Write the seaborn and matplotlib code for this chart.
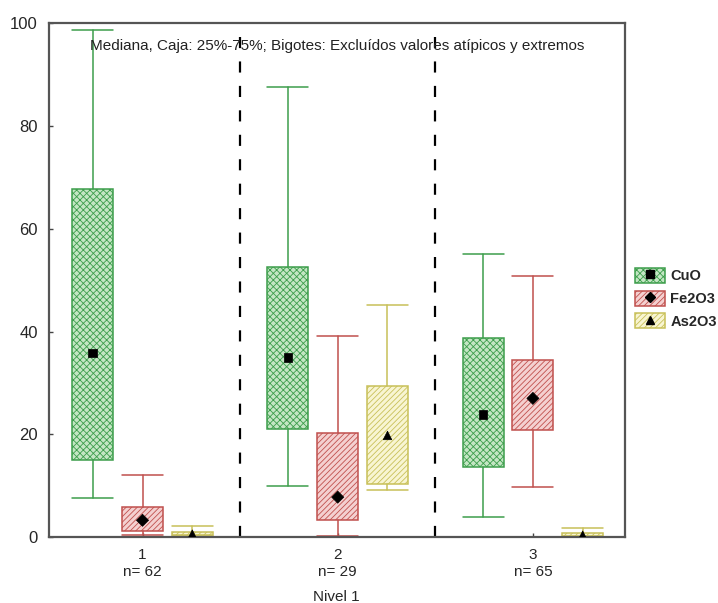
import matplotlib
matplotlib.use('Agg')
import matplotlib.pyplot as plt
import seaborn as sns
import pandas as pd
from matplotlib.patches import Patch
from matplotlib.lines import Line2D

# ---- data ----
groups = [1, 2, 3]
n_counts = [62, 29, 65]
series = ['CuO', 'Fe2O3', 'As2O3']

# per series, per group: whisker low, Q1, median, Q3, whisker high
cuo_lo = [7.6, 9.9, 3.9]
cuo_q1 = [15.0, 21.0, 13.6]
cuo_med = [35.8, 35.0, 23.9]
cuo_q3 = [67.7, 52.5, 38.7]
cuo_hi = [98.6, 87.5, 55.1]

fe_lo = [0.4, 0.2, 9.7]
fe_q1 = [1.2, 3.3, 20.8]
fe_med = [3.3, 7.8, 27.0]
fe_q3 = [5.8, 20.2, 34.4]
fe_hi = [12.1, 39.1, 50.8]

as_lo = [0.2, 9.1, 0.0]
as_q1 = [0.4, 10.3, 0.2]
as_med = [0.6, 19.8, 0.4]
as_q3 = [1.0, 29.4, 0.8]
as_hi = [2.1, 45.1, 1.8]

stats_by_series = {
    'CuO': (cuo_lo, cuo_q1, cuo_med, cuo_q3, cuo_hi),
    'Fe2O3': (fe_lo, fe_q1, fe_med, fe_q3, fe_hi),
    'As2O3': (as_lo, as_q1, as_med, as_q3, as_hi),
}

# ---- style ----
sns.set_style('white')
plt.rcParams['font.family'] = ['Liberation Sans', 'DejaVu Sans']
plt.rcParams['hatch.linewidth'] = 0.6

offsets = {'CuO': -0.255, 'Fe2O3': 0.0, 'As2O3': 0.255}
edge_colors = {'CuO': '#3d9e4c', 'Fe2O3': '#c0504d', 'As2O3': '#c8c058'}
face_colors = {'CuO': '#c4e6c4', 'Fe2O3': '#f4d0d0', 'As2O3': '#f8f5d2'}
hatches = {'CuO': 'xxxxx', 'Fe2O3': '//////', 'As2O3': '//////'}
markers = {'CuO': 's', 'Fe2O3': 'D', 'As2O3': '^'}
box_w = 0.21

fig = plt.figure(figsize=(7.18, 6.03), dpi=100)
ax = fig.add_axes([0.068, 0.109, 0.802, 0.853])

rows = []
for s in series:
    lo, q1, med, q3, hi = stats_by_series[s]
    bxp_stats = []
    pos = []
    for i, g in enumerate(groups):
        bxp_stats.append(dict(whislo=lo[i], q1=q1[i], med=med[i], q3=q3[i],
                              whishi=hi[i], fliers=[]))
        pos.append(g + offsets[s])
        rows.append(dict(x=g + offsets[s], median=med[i], series=s))
    ax.bxp(bxp_stats, positions=pos, widths=box_w, capwidths=box_w,
           patch_artist=True, showfliers=False, manage_ticks=False,
           boxprops=dict(facecolor=face_colors[s], edgecolor=edge_colors[s],
                         linewidth=1.1, hatch=hatches[s]),
           whiskerprops=dict(color=edge_colors[s], linewidth=1.1),
           capprops=dict(color=edge_colors[s], linewidth=1.1),
           medianprops=dict(linewidth=0))

df = pd.DataFrame(rows)
sns.scatterplot(data=df, x='x', y='median', style='series', markers=markers,
                color='black', s=38, edgecolor='black', legend=False, ax=ax, zorder=5)

# separators between groups
for xv in [1.5, 2.5]:
    ax.axvline(xv, color='black', linestyle=(0, (5, 6)), linewidth=1.6, zorder=1)

ax.set_xlim(0.52, 3.47)
ax.set_ylim(0, 100)
ax.set_xticks(groups)
ax.set_xticklabels([f'{g}\nn= {n}' for g, n in zip(groups, n_counts)], fontsize=11)
ax.set_yticks([0, 20, 40, 60, 80, 100])
ax.set_yticklabels(['0', '20', '40', '60', '80', '100'], fontsize=12)
ax.tick_params(axis='both', direction='in', length=3, width=1, color='#444444',
               left=True, bottom=True, pad=8)
ax.set_xlabel('Nivel 1', fontsize=11, labelpad=8)
ax.set_ylabel('')
for sp in ax.spines.values():
    sp.set_color('#555555')
    sp.set_linewidth(1.6)

ax.text(0.5, 0.955, 'Mediana, Caja: 25%-75%; Bigotes: Excluídos valores atípicos y extremos',
        transform=ax.transAxes, ha='center', va='center', fontsize=11, color='#222222')

handles = []
for s in series:
    p = Patch(facecolor=face_colors[s], edgecolor=edge_colors[s], hatch=hatches[s], linewidth=1.1)
    m = Line2D([], [], marker=markers[s], color='black', linestyle='None', markersize=5.5)
    handles.append((p, m))
fig.legend(handles, series, loc='center left', bbox_to_anchor=(0.885, 0.505),
           frameon=False, borderpad=0, borderaxespad=0,
           handlelength=2.0, handleheight=1.2, handletextpad=0.4,
           labelspacing=0.5, prop={'weight': 'bold', 'size': 10.5})

fig.savefig('out.png', dpi=100)
